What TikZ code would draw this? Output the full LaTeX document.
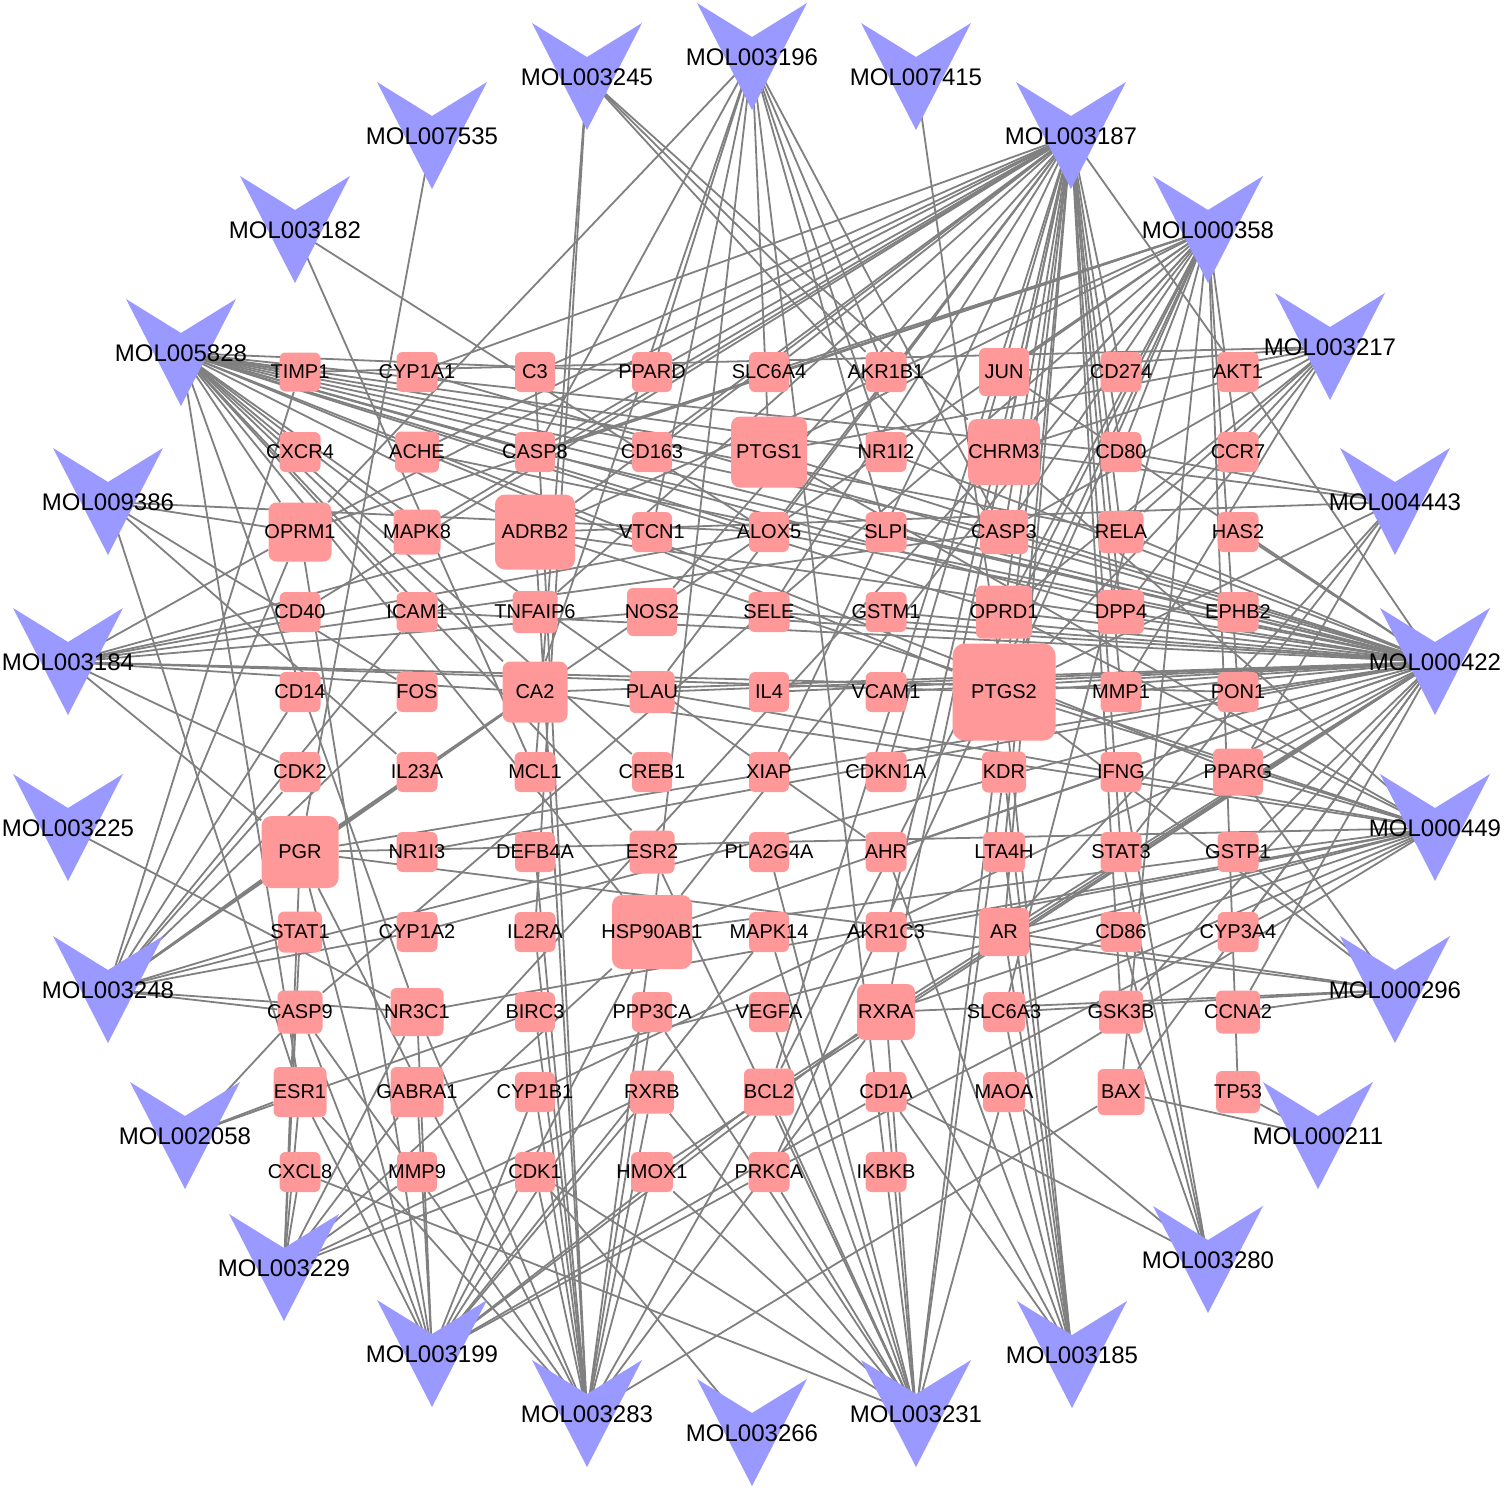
\documentclass[tikz,border=0pt]{standalone}
\usepackage{fontspec}
\setmainfont{Liberation Sans}
\pgfdeclarelayer{bg}
\pgfsetlayers{bg,main}
\definecolor{tfill}{RGB}{255,153,153}
\definecolor{mfill}{RGB}{153,153,255}
\definecolor{ecol}{RGB}{128,128,128}
\tikzset{
  tbox/.style={fill=tfill,draw=none,rounded corners=6pt,inner sep=0pt,rectangle},
  tlab/.style={inner sep=0pt,text=black,font=\fontsize{20}{24}\selectfont},
  mlab/.style={inner sep=0pt,text=black,font=\fontsize{24}{28}\selectfont},
  edge/.style={draw=ecol,line width=1.8pt}
}
\newcommand\tgt[5]{\node[tbox,minimum width=#4pt,minimum height=#5pt] (#1) at (#2,#3) {};
  \node[tlab] (#1-t) at (#2,#3) {#1};}
\newcommand\mol[3]{\coordinate (#1) at (#2,#3);
  \fill[mfill] (#2,#3) ++(-55,-54) -- ++(55,34) -- ++(55,-34) -- ++(-55,107) -- cycle;
  \node[mlab] (#1-t) at (#2,#3) {#1};}
\newcommand\links[2]{\foreach \t in {#2} {\draw[edge] (#1) -- (\t);}}
\begin{document}
\begin{tikzpicture}[x=1pt,y=-1pt]
\useasboundingbox (0,0) rectangle (1505,1492);
% row 372
\tgt{TIMP1}{300}{372}{41}{39}
\tgt{CYP1A1}{417}{372}{41}{40}
\tgt{C3}{535}{372}{40}{40}
\tgt{PPARD}{652}{372}{40}{40}
\tgt{SLC6A4}{769}{372}{40}{40}
\tgt{AKR1B1}{886}{372}{41}{40}
\tgt{JUN}{1004}{372}{50}{48}
\tgt{CD274}{1121}{372}{41}{40}
\tgt{AKT1}{1238}{372}{41}{40}
% row 452
\tgt{CXCR4}{300}{452}{41}{40}
\tgt{ACHE}{417}{452}{44}{41}
\tgt{CASP8}{535}{452}{40}{40}
\tgt{CD163}{652}{452}{40}{40}
\node[tbox,rounded corners=9pt,minimum width=76pt,minimum height=71pt] (PTGS1) at (769,452) {};
\node[tlab] (PTGS1-t) at (769,452) {PTGS1};
\tgt{NR1I2}{886}{452}{41}{40}
\node[tbox,rounded corners=9pt,minimum width=72pt,minimum height=66pt] (CHRM3) at (1004,452) {};
\node[tlab] (CHRM3-t) at (1004,452) {CHRM3};
\tgt{CD80}{1121}{452}{41}{40}
\tgt{CCR7}{1238}{452}{41}{40}
% row 532
\node[tbox,rounded corners=8pt,minimum width=63pt,minimum height=59pt] (OPRM1) at (300,532) {};
\node[tlab] (OPRM1-t) at (300,532) {OPRM1};
\tgt{MAPK8}{417}{532}{47}{45}
\node[tbox,rounded corners=10pt,minimum width=80pt,minimum height=75pt] (ADRB2) at (535,532) {};
\node[tlab] (ADRB2-t) at (535,532) {ADRB2};
\tgt{VTCN1}{652}{532}{40}{40}
\tgt{ALOX5}{769}{532}{40}{40}
\tgt{SLPI}{886}{532}{41}{40}
\tgt{CASP3}{1004}{532}{48}{44}
\tgt{RELA}{1121}{532}{45}{42}
\tgt{HAS2}{1238}{532}{41}{40}
% row 612
\tgt{CD40}{300}{612}{41}{40}
\tgt{ICAM1}{417}{612}{41}{40}
\tgt{TNFAIP6}{535}{612}{45}{42}
\tgt{NOS2}{652}{612}{50}{48}
\tgt{SELE}{769}{612}{41}{40}
\tgt{GSTM1}{886}{612}{41}{40}
\tgt{OPRD1}{1004}{612}{56}{53}
\tgt{DPP4}{1121}{612}{46}{44}
\tgt{EPHB2}{1238}{612}{41}{40}
% row 692
\tgt{CD14}{300}{692}{41}{40}
\tgt{FOS}{417}{692}{41}{40}
\node[tbox,rounded corners=8pt,minimum width=65pt,minimum height=61pt] (CA2) at (535,692) {};
\node[tlab] (CA2-t) at (535,692) {CA2};
\tgt{PLAU}{652}{692}{45}{42}
\tgt{IL4}{769}{692}{40}{40}
\tgt{VCAM1}{886}{692}{41}{40}
\node[tbox,rounded corners=12pt,minimum width=103pt,minimum height=97pt] (PTGS2) at (1004,692) {};
\node[tlab] (PTGS2-t) at (1004,692) {PTGS2};
\tgt{MMP1}{1121}{692}{41}{40}
\tgt{PON1}{1238}{692}{41}{40}
% row 772
\tgt{CDK2}{300}{772}{41}{40}
\tgt{IL23A}{417}{772}{41}{40}
\tgt{MCL1}{535}{772}{41}{40}
\tgt{CREB1}{652}{772}{40}{40}
\tgt{XIAP}{769}{772}{40}{40}
\tgt{CDKN1A}{886}{772}{41}{40}
\tgt{KDR}{1004}{772}{44}{41}
\tgt{IFNG}{1121}{772}{41}{40}
\tgt{PPARG}{1238}{772}{50}{47}
% row 852
\node[tbox,rounded corners=10pt,minimum width=77pt,minimum height=72pt] (PGR) at (300,852) {};
\node[tlab] (PGR-t) at (300,852) {PGR};
\tgt{NR1I3}{417}{852}{41}{40}
\tgt{DEFB4A}{535}{852}{40}{40}
\tgt{ESR2}{652}{852}{45}{43}
\tgt{PLA2G4A}{769}{852}{40}{40}
\tgt{AHR}{886}{852}{41}{40}
\tgt{LTA4H}{1004}{852}{42}{40}
\tgt{STAT3}{1121}{852}{41}{40}
\tgt{GSTP1}{1238}{852}{41}{40}
% row 932
\tgt{STAT1}{300}{932}{44}{41}
\tgt{CYP1A2}{417}{932}{41}{40}
\tgt{IL2RA}{535}{932}{41}{40}
\node[tbox,rounded corners=10pt,minimum width=80pt,minimum height=74pt] (HSP90AB1) at (652,932) {};
\node[tlab] (HSP90AB1-t) at (652,932) {HSP90AB1};
\tgt{MAPK14}{769}{932}{40}{40}
\tgt{AKR1C3}{886}{932}{41}{40}
\tgt{AR}{1004}{932}{50}{48}
\tgt{CD86}{1121}{932}{41}{40}
\tgt{CYP3A4}{1238}{932}{41}{40}
% row 1012
\tgt{CASP9}{300}{1012}{45}{43}
\tgt{NR3C1}{417}{1012}{53}{48}
\tgt{BIRC3}{535}{1012}{40}{40}
\tgt{PPP3CA}{652}{1012}{40}{40}
\tgt{VEGFA}{769}{1012}{40}{40}
\node[tbox,rounded corners=8pt,minimum width=58pt,minimum height=56pt] (RXRA) at (886,1012) {};
\node[tlab] (RXRA-t) at (886,1012) {RXRA};
\tgt{SLC6A3}{1004}{1012}{42}{40}
\tgt{GSK3B}{1121}{1012}{44}{43}
\tgt{CCNA2}{1238}{1012}{44}{43}
% row 1092
\tgt{ESR1}{300}{1092}{53}{50}
\tgt{GABRA1}{417}{1092}{53}{50}
\tgt{CYP1B1}{535}{1092}{40}{40}
\tgt{RXRB}{652}{1092}{44}{43}
\tgt{BCL2}{769}{1092}{50}{47}
\tgt{CD1A}{886}{1092}{41}{40}
\tgt{MAOA}{1004}{1092}{42}{40}
\tgt{BAX}{1121}{1092}{47}{46}
\tgt{TP53}{1238}{1092}{44}{42}
% row 1172
\tgt{CXCL8}{300}{1172}{41}{40}
\tgt{MMP9}{417}{1172}{40}{40}
\tgt{CDK1}{535}{1172}{40}{40}
\tgt{HMOX1}{652}{1172}{42}{40}
\tgt{PRKCA}{769}{1172}{41}{40}
\tgt{IKBKB}{886}{1172}{41}{40}
% molecules
\mol{MOL003196}{752}{57}
\mol{MOL003245}{587}{77}
\mol{MOL007415}{916}{77}
\mol{MOL007535}{432}{136}
\mol{MOL003187}{1071}{136}
\mol{MOL003182}{295}{230}
\mol{MOL000358}{1208}{230}
\mol{MOL005828}{181}{353}
\mol{MOL003217}{1330}{347}
\mol{MOL009386}{108}{502}
\mol{MOL004443}{1395}{502}
\mol{MOL003184}{68}{662}
\mol{MOL000422}{1435}{662}
\mol{MOL003225}{68}{828}
\mol{MOL000449}{1435}{828}
\mol{MOL003248}{108}{990}
\mol{MOL000296}{1395}{990}
\mol{MOL002058}{185}{1136}
\mol{MOL000211}{1318}{1136}
\mol{MOL003229}{284}{1268}
\mol{MOL003280}{1208}{1260}
\mol{MOL003199}{432}{1354}
\mol{MOL003185}{1072}{1355}
\mol{MOL003283}{587}{1414}
\mol{MOL003231}{916}{1414}
\mol{MOL003266}{752}{1433}
\begin{pgfonlayer}{bg}
\fill[white] (0,0) rectangle (1505,1492);
\links{MOL003196}{OPRM1,PPARD,CASP8,VTCN1,PTGS1,HSP90AB1,IKBKB,AKR1B1,NR1I2,CASP3,SLPI,CA2}
\links{MOL003245}{MCL1,IL2RA,AKR1B1,CASP3,CHRM3}
\links{MOL007415}{PTGS2}
\links{MOL007535}{PGR}
\links{MOL003182}{MCL1,ALOX5}
\links{MOL003187}{C3,PPARD,SLC6A4,CASP8,CD163,CYP1A1,ACHE,MAPK8,OPRM1,ADRB2,TNFAIP6,NOS2,CD40,ALOX5,SELE,PLAU,XIAP,CDKN1A,AKR1C3,RXRA,BCL2,CHRM3,CASP3,OPRD1,PTGS2,LTA4H,AR,RELA,DPP4,STAT3,GSK3B,CD274,CD80,MMP1,AKT1}
\links{MOL000358}{PGR,PTGS1,PTGS2,CHRM3,ADRB2,SLC6A4,OPRD1,OPRM1,SLC6A3,GABRA1,BCL2,BAX,CASP9,JUN,CASP3,CASP8,PRKCA,PON1,CCR7,TP53,CD80,HSP90AB1}
\links{MOL005828}{TIMP1,PPARD,CD80,NR1I2,PTGS1,CASP8,ADRB2,ALOX5,RELA,CASP3,OPRD1,EPHB2,DPP4,PTGS2,PPARG,AHR,CA2,CREB1,ESR2,HSP90AB1,MAPK8,OPRM1,ESR1,NR3C1,ICAM1,CXCR4}
\links{MOL003217}{TIMP1,CHRM3,PTGS1,CASP3,RELA,OPRD1,DPP4,PTGS2,MMP1,JUN}
\links{MOL004443}{CD80,CHRM3,PTGS2,PPARG,AR,STAT3,ADRB2}
\links{MOL000422}{HAS2,EPHB2,PON1,PPARG,GSTP1,CYP3A4,AKT1,BCL2,BAX,CASP3,CASP8,JUN,RELA,SELE,VCAM1,ICAM1,MMP1,NOS2,PTGS1,PTGS2,PGR,AR,ADRB2,GSK3B,RXRA,NR1I2,NR1I3,CYP1A1,CYP1A2,CYP1B1,AHR,GSTM1,SLPI,PLAU,HMOX1,ALOX5,IL4,ACHE,DPP4,OPRD1,CA2,HSP90AB1,CCNA2}
\links{MOL000449}{PTGS2,PPARG,PGR,AKR1C3,AR,RXRA,ADRB2,PTGS1,CHRM3,OPRD1,GABRA1,SLC6A3,PRKCA,MAOA,PLAU,NR3C1,HSP90AB1,CA2}
\links{MOL000296}{GSTP1,RXRA,SLC6A3,AR,PPARG,PTGS2,CCNA2,PGR}
\links{MOL000211}{BAX,TP53}
\links{MOL003280}{GSK3B,CD86,STAT3,MAOA,CD1A,IFNG}
\links{MOL003185}{MAOA,PTGS2,AR,SLC6A3,AHR,CD1A,KDR,RXRA,LTA4H}
\links{MOL003231}{HMOX1,PRKCA,RXRB,CDK1,IKBKB,RXRA,PTGS2,KDR,BCL2,PPP3CA,CD1A,MAOA,VEGFA,MAPK14,PLA2G4A,ESR2,CXCL8}
\links{MOL003266}{CDK1}
\links{MOL003283}{CASP9,ESR1,CDK1,BIRC3,IL2RA,PPP3CA,HMOX1,RXRB,BCL2,RXRA,BAX,HSP90AB1,PGR,NR3C1,CYP1B1,DEFB4A,ADRB2,C3}
\links{MOL003199}{ESR1,CASP9,NR3C1,GABRA1,PGR,CYP1B1,RXRB,BCL2,RXRA,PPP3CA,OPRM1,MAPK14,PRKCA,CD1A,HSP90AB1}
\links{MOL003229}{CXCL8,ESR1,STAT1,NR3C1,MMP9,RXRB,CDK1,PGR,GABRA1,HSP90AB1}
\links{MOL002058}{CASP9,ESR1,BIRC3}
\links{MOL003248}{PGR,STAT1,CD14,CDK2,OPRM1,FOS,CYP1A2,CASP9,NR3C1,CA2,ESR2,TIMP1,ICAM1,IL23A}
\links{MOL003225}{NR3C1}
\links{MOL009386}{ALOX5,OPRM1,FOS,IL23A,ESR1}
\links{MOL003184}{OPRM1,ADRB2,ALOX5,CASP3,NOS2,PTGS2,PON1,CDK2,PGR,CD40,CA2}
\end{pgfonlayer}
\end{tikzpicture}
\end{document}
